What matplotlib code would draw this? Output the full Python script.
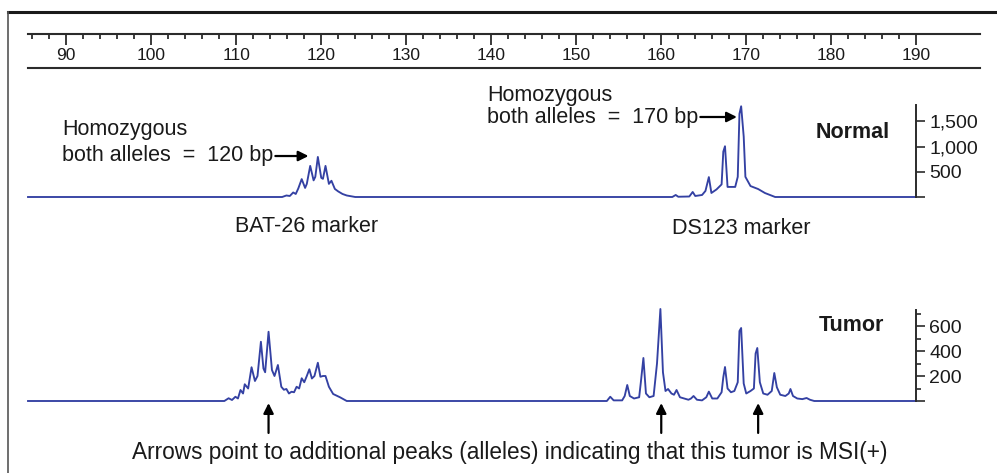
import matplotlib
matplotlib.use("Agg")
import matplotlib.pyplot as plt
from matplotlib.lines import Line2D

plt.rcParams["font.family"] = ["Liberation Sans", "DejaVu Sans"]

# ruler (fragment size, bp)
ruler_major = [90, 100, 110, 120, 130, 140, 150, 160, 170, 180, 190]
ruler_minor = [v for v in range(86, 191, 2) if v % 10 != 0]

# normal sample trace: fragment size (bp) vs signal (RFU)
normal_bp = [85.5,
             115.4, 115.9, 116.3, 116.7, 117.0, 117.3, 117.7, 118.1, 118.3, 118.7,
             119.1, 119.3, 119.6, 120.0, 120.2, 120.5, 120.9, 121.2, 121.6, 122.0,
             122.5, 123.0, 124.0,
             161.3, 161.7, 162.0, 163.3, 163.7, 164.0, 164.8, 165.2, 165.6, 165.9,
             166.5, 167.1, 167.3, 167.5, 167.8, 168.7, 169.0, 169.2, 169.4, 169.7,
             169.9, 170.5, 171.4, 172.2, 173.4,
             190.0]
normal_rfu = [0,
              0, 30, 20, 90, 60, 170, 355, 180, 260, 617,
              330, 400, 795, 380, 360, 617, 260, 322, 160, 110,
              60, 30, 0,
              0, 40, 5, 10, 100, 20, 40, 120, 395, 80,
              150, 250, 900, 1007, 200, 200, 400, 1650, 1800, 1200,
              400, 217, 158, 79, 0,
              0]

# tumor sample trace
tumor_bp = [85.5,
            108.6, 109.1, 109.5, 109.9, 110.2, 110.5, 110.8, 111.0, 111.4, 111.8,
            112.2, 112.5, 112.9, 113.2, 113.4, 113.8, 114.2, 114.5, 114.9, 115.3,
            115.6, 115.9, 116.2, 116.5, 116.8, 117.1, 117.4, 117.7, 118.0, 118.3,
            118.6, 118.9, 119.2, 119.6, 119.9, 120.2, 120.5, 120.9, 121.4, 122.2,
            123.0,
            153.6, 154.0, 154.4, 155.4, 155.7, 156.0, 156.3, 156.8, 157.4, 157.6,
            157.9, 158.2, 158.6, 159.1, 159.5, 159.9, 160.2, 160.5, 160.8, 161.2,
            161.5, 161.8, 162.2, 162.7, 163.2, 163.5, 163.8, 164.2, 164.8, 165.3,
            165.6, 166.0, 166.6, 167.1, 167.3, 167.5, 167.8, 168.2, 168.6, 169.0,
            169.2, 169.4, 169.7, 170.0, 170.5, 170.9, 171.1, 171.3, 171.6, 172.0,
            172.5, 173.0, 173.3, 173.6, 174.0, 174.6, 175.0, 175.2, 175.5, 176.0,
            176.6, 177.1, 177.5, 178.0,
            190.0]
tumor_rfu = [0,
             0, 22, 8, 34, 20, 88, 60, 134, 100, 270,
             160, 200, 474, 260, 230, 554, 248, 200, 288, 114,
             90, 96, 60, 74, 70, 114, 100, 182, 150, 200,
             254, 180, 200, 306, 194, 200, 200, 114, 56, 30,
             0,
             0, 34, 5, 5, 40, 128, 40, 20, 30, 150,
             344, 60, 30, 40, 300, 736, 230, 80, 96, 60,
             50, 88, 30, 20, 10, 20, 40, 10, 5, 30,
             75, 20, 20, 70, 190, 272, 100, 70, 80, 150,
             560, 584, 140, 60, 80, 100, 380, 424, 150, 60,
             50, 80, 224, 110, 50, 40, 60, 96, 40, 20,
             15, 24, 10, 0,
             0]

normal_ticks = [0, 500, 1000, 1500]
normal_labels = ["", "500", "1,000", "1,500"]
tumor_ticks = [0, 200, 400, 600]
tumor_labels = ["", "200", "400", "600"]
tumor_minor = [100, 300, 500, 700]

# extra alleles marked in the tumor
arrow_bp = [113.8, 160.0, 171.4]

trace_color = "#3441a3"
W, H = 997, 473


def fx(px):
    return px / W


def fy(py):
    return 1 - py / H


fig = plt.figure(figsize=(W / 100, H / 100), dpi=100)
xlim = (85.5, 197.5)
left, width = fx(28), fx(980) - fx(28)

# ruler
ax_r = fig.add_axes([left, fy(68), width, (68 - 34) / H])
ax_r.set_xlim(*xlim)
ax_r.set_ylim(0, 1)
ax_r.patch.set_alpha(0)
for s in ["left", "right"]:
    ax_r.spines[s].set_visible(False)
for s in ["top", "bottom"]:
    ax_r.spines[s].set_linewidth(1.5)
    ax_r.spines[s].set_color("#2b2b2b")
ax_r.set_yticks([])
ax_r.set_xticks(ruler_major)
ax_r.set_xticks(ruler_minor, minor=True)
ax_r.xaxis.set_ticks_position("top")
ax_r.tick_params(axis="x", which="major", direction="in", length=8, width=1.3,
                 color="#2b2b2b", labeltop=False, labelbottom=False)
ax_r.tick_params(axis="x", which="minor", direction="in", length=3.6, width=1.3,
                 color="#2b2b2b")
for v in ruler_major:
    ax_r.text(v, 0.38, str(v), transform=ax_r.get_xaxis_transform(),
              ha="center", va="center", fontsize=12.5, color="#1a1a1a")


def trace_axes(bottom_px, height_px, ymax):
    ax = fig.add_axes([left, fy(bottom_px), width, height_px / H])
    ax.set_xlim(*xlim)
    ax.set_ylim(0, ymax)
    ax.patch.set_alpha(0)
    for s in ["top", "bottom", "left"]:
        ax.spines[s].set_visible(False)
    ax.spines["right"].set_position(("data", 190))
    ax.spines["right"].set_linewidth(1.4)
    ax.spines["right"].set_color("#2b2b2b")
    ax.yaxis.tick_right()
    ax.set_xticks([])
    ax.tick_params(axis="y", which="major", direction="out", length=6.5, width=1.2,
                   pad=3, labelsize=14, color="#2b2b2b", labelcolor="#1a1a1a")
    ax.tick_params(axis="y", which="minor", direction="out", length=3.5, width=1.2,
                   color="#2b2b2b")
    return ax


ax_n = trace_axes(197, 92, 1825)
ax_n.plot(normal_bp, normal_rfu, color=trace_color, lw=1.35, clip_on=False)
ax_n.set_yticks(normal_ticks)
ax_n.set_yticklabels(normal_labels)

ax_t = trace_axes(401, 91, 728)
ax_t.plot(tumor_bp, tumor_rfu, color=trace_color, lw=1.35, clip_on=False)
ax_t.set_yticks(tumor_ticks)
ax_t.set_yticklabels(tumor_labels)
ax_t.set_yticks(tumor_minor, minor=True)

for bp in arrow_bp:
    ax_t.annotate("", xy=(bp, 0), xytext=(0, -23), textcoords="offset points",
                  annotation_clip=False,
                  arrowprops=dict(arrowstyle="-|>", color="black", lw=1.6,
                                  mutation_scale=15, shrinkA=0, shrinkB=1.5))

# homozygous allele callouts
ax_n.annotate("", xy=(118.5, 813), xytext=(114.6, 813), annotation_clip=False,
              arrowprops=dict(arrowstyle="-|>", color="black", lw=1.6,
                              mutation_scale=15, shrinkA=0, shrinkB=0))
ax_n.annotate("", xy=(168.9, 1587), xytext=(164.6, 1587), annotation_clip=False,
              arrowprops=dict(arrowstyle="-|>", color="black", lw=1.6,
                              mutation_scale=15, shrinkA=0, shrinkB=0))

txt = dict(fontsize=15.5, color="#1a1a1a", va="center")
fig.text(fx(62), fy(130), "Homozygous", ha="left", **txt)
fig.text(fx(62), fy(156), "both alleles  =  120 bp", ha="left", **txt)
fig.text(fx(487), fy(95), "Homozygous", ha="left", **txt)
fig.text(fx(487), fy(117), "both alleles  =  170 bp", ha="left", **txt)
fig.text(fx(307), fy(226), "BAT-26 marker", ha="center", **txt)
fig.text(fx(741), fy(229), "DS123 marker", ha="center", **txt)
fig.text(fx(890), fy(132), "Normal", ha="right", fontsize=15.5,
         fontweight="bold", color="#1a1a1a", va="center")
fig.text(fx(884), fy(325), "Tumor", ha="right", fontsize=15.5,
         fontweight="bold", color="#1a1a1a", va="center")
fig.text(fx(510), fy(452),
         "Arrows point to additional peaks (alleles) indicating that this tumor is MSI(+)",
         ha="center", fontsize=16.3, color="#1a1a1a", va="center")

# frame
fig.add_artist(Line2D([fx(8), 1], [fy(12), fy(12)], color="#1a1a1a", lw=2.2))
fig.add_artist(Line2D([fx(8), fx(8)], [0, fy(12)], color="#555555", lw=1.2))

fig.savefig("out.png", dpi=100)
